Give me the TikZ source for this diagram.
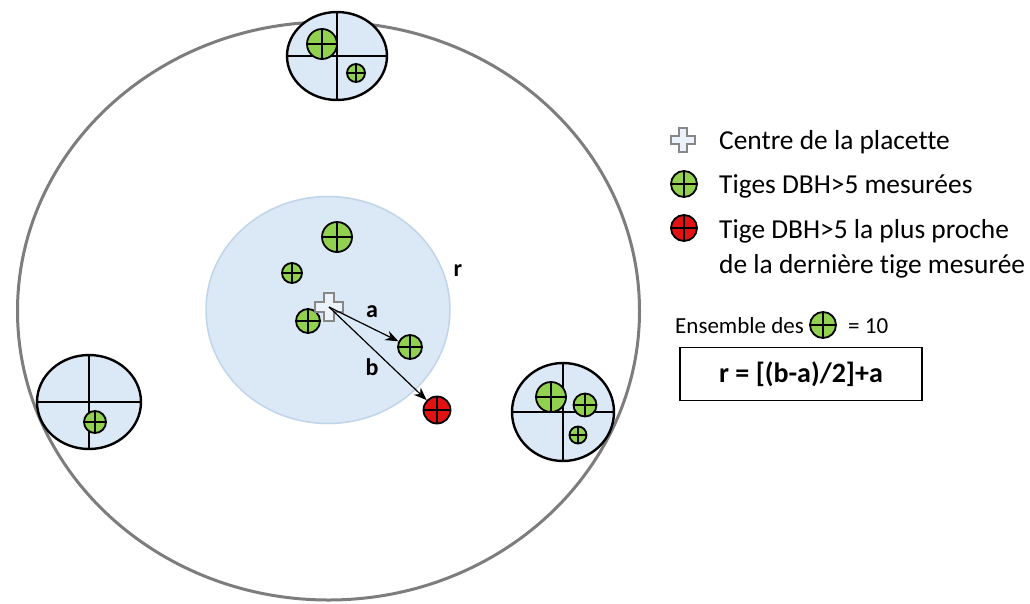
\documentclass[tikz,border=0pt]{standalone}
\usepackage{fontspec}
\setmainfont[Ligatures=NoCommon]{Carlito}
\usetikzlibrary{shapes.geometric,arrows.meta}

\definecolor{stemgreen}{RGB}{146,208,80}
\definecolor{stemred}{RGB}{226,18,18}
\definecolor{plotblue}{RGB}{219,232,245}
\definecolor{plotedge}{RGB}{192,212,234}
\definecolor{outergray}{RGB}{125,125,125}
\definecolor{markgray}{RGB}{135,135,135}
\definecolor{markfill}{RGB}{236,242,249}

\tikzset{
  stem/.style={circle,draw=black,fill=stemgreen,line width=1.8pt,minimum size=#1,inner sep=0pt,
    path picture={\draw[line width=1.9pt] (path picture bounding box.north) -- (path picture bounding box.south)
      (path picture bounding box.west) -- (path picture bounding box.east);}},
  nearstem/.style={stem=#1,fill=stemred},
  subplot/.style={ellipse,draw=black,fill=plotblue,line width=2.4pt,inner sep=0pt},
  plusmark/.pic={
    \draw[draw=markgray,fill=markfill,line width=2pt]
      (-.35,-1) -- (.35,-1) -- (.35,-.35) -- (1,-.35) -- (1,.35) -- (.35,.35) -- (.35,1)
      -- (-.35,1) -- (-.35,.35) -- (-1,.35) -- (-1,-.35) -- (-.35,-.35) -- cycle;},
  legend/.style={anchor=base west,inner sep=0pt,font=\fontsize{27.4}{35}\selectfont},
  distlabel/.style={inner sep=0pt,font=\fontsize{24}{28}\selectfont\bfseries},
}

\begin{document}
\begin{tikzpicture}[x=1pt,y=-1pt]
  \useasboundingbox (0,0) rectangle (1030,603);

  % placette et zone de recherche
  \node[ellipse,draw=outergray,line width=3pt,minimum width=622,minimum height=578,inner sep=0pt] (plot) at (328.5,311) {};
  \node[ellipse,draw=plotedge,fill=plotblue,line width=1.5pt,minimum width=244,minimum height=227,inner sep=0pt] (inner) at (328,310) {};

  % sous-placettes
  \node[subplot,minimum width=100,minimum height=88] (subtop) at (337,56) {};
  \node[subplot,minimum width=104,minimum height=94] (subleft) at (89,402) {};
  \node[subplot,minimum width=102,minimum height=98] (subright) at (563,412) {};
  \foreach \sub in {subtop,subleft,subright}
    \draw[line width=2.2pt] (\sub.north) -- (\sub.south) (\sub.west) -- (\sub.east);

  % tiges
  \node[stem=30] (t1) at (337,237) {};
  \node[stem=20] (t2) at (292,273) {};
  \node[stem=24] (t3) at (308,321) {};
  \node[stem=24] (t4) at (410,347) {};
  \node[nearstem=27] (t5) at (437,410) {};
  \node[stem=30] (t6) at (322,44) {};
  \node[stem=18] (t7) at (356,73) {};
  \node[stem=22] (t8) at (95,422) {};
  \node[stem=30] (t9) at (551,397) {};
  \node[stem=23] (t10) at (585,405) {};
  \node[stem=17] (t11) at (578,435) {};

  % centre et distances
  \coordinate (centre) at (329,307);
  \pic[scale=14] (mark) at (centre) {plusmark};
  \foreach \to in {t4,t5}
    \draw[line width=1.2pt,-{Stealth[length=13pt,width=10pt]}] (centre) -- (\to);
  \node[distlabel] (la) at (372,312) {a};
  \node[distlabel] (lb) at (372,367) {b};
  \node[distlabel] (lr) at (458,271) {r};

  % legende
  \coordinate (leg1) at (683,140);
  \pic[scale=12] (legmark) at (leg1) {plusmark};
  \node[stem=26] (leg2) at (684,184) {};
  \node[nearstem=26] (leg3) at (684,228) {};
  \node[legend] (txt1) at (719,149) {Centre de la placette};
  \node[legend] (txt2) at (719,193) {Tiges DBH>5 mesurées};
  \node[legend] (txt3) at (719,238) {Tige DBH>5 la plus proche};
  \node[legend] (txt4) at (719,273) {de la dernière tige mesurée};
  \node[legend,font=\fontsize{23}{30}\selectfont] (txt5) at (675,333) {Ensemble des};
  \node[stem=26] (leg4) at (823,325) {};
  \node[legend,font=\fontsize{23}{30}\selectfont] (txt6) at (848,333) {= 10};
  \node[draw,line width=1.5pt,minimum width=242,minimum height=53,font=\fontsize{28}{32}\selectfont\bfseries] (formula) at (801,374) {r = [(b-a)/2]+a};
\end{tikzpicture}
\end{document}
